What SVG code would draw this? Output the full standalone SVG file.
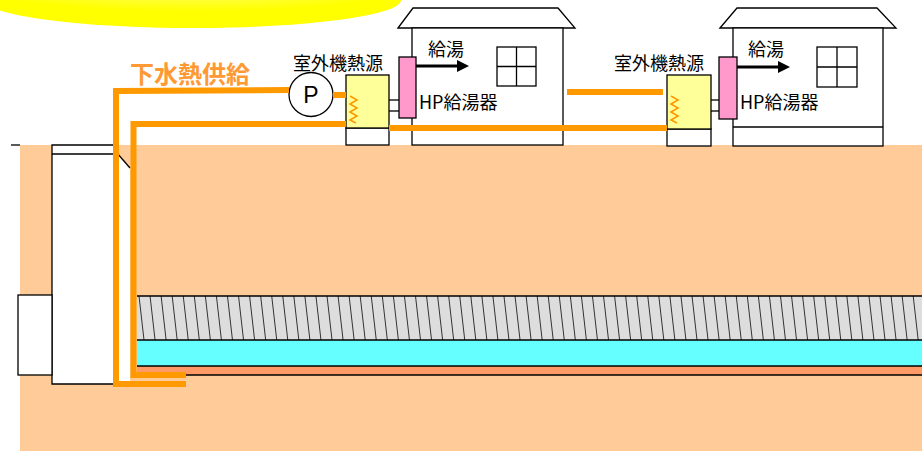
<svg xmlns="http://www.w3.org/2000/svg" width="922" height="451" viewBox="0 0 922 451">
  <defs>
    <radialGradient id="sunGrad" cx="0.5" cy="0.1" r="0.6">
      <stop offset="0" stop-color="#FFFFAA"/>
      <stop offset="0.55" stop-color="#FFFF44"/>
      <stop offset="1" stop-color="#FFFF00"/>
    </radialGradient>
    <marker id="arrowHead" viewBox="0 0 10 10" refX="0" refY="5" markerWidth="4" markerHeight="4" markerUnits="strokeWidth" orient="auto">
      <path d="M0,0 L10,5 L0,10 z" fill="#000"/>
    </marker>
    <style>
      .ln { stroke: #000; stroke-width: 1.3; fill: none; }
      .wh { fill: #fff; stroke: #000; stroke-width: 1.3; }
      .unit { fill: #FFFF99; stroke: #000; stroke-width: 1.3; }
      .hp { fill: #FF99CC; stroke: #000; stroke-width: 1.3; }
      .pipe { fill: none; stroke: #FF9900; stroke-width: 6; stroke-linejoin: miter; stroke-linecap: butt; }
      .coil { fill: none; stroke: #FF9900; stroke-width: 1.6; }
      .hatch { fill: none; stroke: #333; stroke-width: 1; }
      .lbl { font-family: "Noto Sans CJK JP", "Noto Sans", sans-serif; font-size: 18px; fill: #000; }
      .title { font-family: "Noto Sans CJK JP", "Noto Sans", sans-serif; font-size: 24px; font-weight: bold; fill: #FF9933; }
    </style>
  </defs>

  <!-- sun -->
  <ellipse cx="193" cy="0" rx="208" ry="28" fill="url(#sunGrad)"/>

  <!-- ground -->
  <rect x="20" y="145" width="902" height="306" fill="#FFCC99"/>
  <line class="ln" x1="11" y1="145" x2="20" y2="145"/>

  <!-- manhole shaft and side chamber -->
  <g id="shaft">
    <polygon points="52,145 117,145 117,154 130,168 130,384 52,384" fill="#fff"/>
    <polyline class="ln" points="113,145 52,145 52,384 116,384"/>
    <line class="ln" x1="52" y1="154" x2="113" y2="154"/>
    <line class="ln" x1="117" y1="153" x2="130" y2="168"/>
    <rect class="wh" x="18" y="295" width="34" height="80"/>
  </g>

  <!-- sewer pipe: sediment (hatched), flow, invert -->
  <g id="sewer">
    <rect x="137" y="296" width="785" height="44" fill="#DDDDDD"/>
    <path class="hatch" d="M139,296l5,44M150.06,296l5,44M161.12,296l5,44M172.18,296l5,44M183.24,296l5,44M194.3,296l5,44M205.36,296l5,44M216.42,296l5,44M227.48,296l5,44M238.54,296l5,44M249.6,296l5,44M260.66,296l5,44M271.72,296l5,44M282.78,296l5,44M293.84,296l5,44M304.9,296l5,44M315.96,296l5,44M327.02,296l5,44M338.08,296l5,44M349.14,296l5,44M360.2,296l5,44M371.26,296l5,44M382.32,296l5,44M393.38,296l5,44M404.44,296l5,44M415.5,296l5,44M426.56,296l5,44M437.62,296l5,44M448.68,296l5,44M459.74,296l5,44M470.8,296l5,44M481.86,296l5,44M492.92,296l5,44M503.98,296l5,44M515.04,296l5,44M526.1,296l5,44M537.16,296l5,44M548.22,296l5,44M559.28,296l5,44M570.34,296l5,44M581.4,296l5,44M592.46,296l5,44M603.52,296l5,44M614.58,296l5,44M625.64,296l5,44M636.7,296l5,44M647.76,296l5,44M658.82,296l5,44M669.88,296l5,44M680.94,296l5,44M692,296l5,44M703.06,296l5,44M714.12,296l5,44M725.18,296l5,44M736.24,296l5,44M747.3,296l5,44M758.36,296l5,44M769.42,296l5,44M780.48,296l5,44M791.54,296l5,44M802.6,296l5,44M813.66,296l5,44M824.72,296l5,44M835.78,296l5,44M846.84,296l5,44M857.9,296l5,44M868.96,296l5,44M880.02,296l5,44M891.08,296l5,44M902.14,296l5,44M913.2,296l5,44"/>
    <rect x="137" y="340" width="785" height="26" fill="#66FFFF"/>
    <rect x="137" y="366" width="785" height="9" fill="#FF9966"/>
    <line class="ln" x1="137" y1="296" x2="922" y2="296"/>
    <line class="ln" x1="137" y1="340" x2="922" y2="340"/>
    <line class="ln" x1="137" y1="366" x2="922" y2="366"/>
    <line class="ln" x1="137" y1="375" x2="922" y2="375"/>
  </g>

  <!-- house 1 -->
  <g id="house1">
    <polygon class="wh" points="398,28 413,8 558,8 575,28"/>
    <rect class="wh" x="412" y="28" width="151" height="117"/>
    <line class="ln" x1="412" y1="127" x2="563" y2="127"/>
    <rect class="wh" x="497" y="47" width="39" height="39"/>
    <line class="ln" x1="516.5" y1="47" x2="516.5" y2="86"/>
    <line class="ln" x1="497" y1="66.5" x2="536" y2="66.5"/>
  </g>

  <!-- house 2 -->
  <g id="house2">
    <polygon class="wh" points="720,28 737,8 877,8 896,28"/>
    <rect class="wh" x="733" y="28" width="150" height="118"/>
    <line class="ln" x1="733" y1="127" x2="883" y2="127"/>
    <rect class="wh" x="817" y="47" width="40" height="40"/>
    <line class="ln" x1="837" y1="47" x2="837" y2="87"/>
    <line class="ln" x1="817" y1="67" x2="857" y2="67"/>
  </g>

  <!-- outdoor unit 1 -->
  <g id="unit1">
    <rect class="wh" x="346" y="128" width="43" height="17"/>
    <rect class="unit" x="346" y="75" width="43" height="53"/>
    <polyline class="coil" points="350,96 357,100 350,104 357,108 350,112 357,116 350,120 356,123"/>
    <text class="lbl" x="293" y="70">室外機熱源</text>
  </g>

  <!-- outdoor unit 2 -->
  <g id="unit2">
    <rect class="wh" x="667" y="129" width="44" height="17"/>
    <rect class="unit" x="667" y="75" width="44" height="54"/>
    <polyline class="coil" points="671,96 678,100 671,104 678,108 671,112 678,116 671,120 677,123"/>
    <text class="lbl" x="614" y="70">室外機熱源</text>
  </g>

  <!-- heat pump water heater 1 -->
  <g id="hp1">
    <line class="ln" x1="389" y1="100" x2="399" y2="100"/>
    <line class="ln" x1="389" y1="111" x2="399" y2="111"/>
    <rect class="hp" x="399" y="57" width="17" height="61"/>
    <text class="lbl" x="419" y="108.5">HP給湯器</text>
  </g>

  <!-- heat pump water heater 2 -->
  <g id="hp2">
    <line class="ln" x1="711" y1="100" x2="719" y2="100"/>
    <line class="ln" x1="711" y1="111" x2="719" y2="111"/>
    <rect class="hp" x="719" y="57" width="18" height="62"/>
    <text class="lbl" x="740" y="108.5">HP給湯器</text>
  </g>

  <!-- pump -->
  <g id="pump">
    <circle cx="311" cy="94.5" r="22" fill="#fff" stroke="#000" stroke-width="1.3"/>
    <text x="311" y="103" text-anchor="middle" font-family="Liberation Sans, sans-serif" font-size="23" fill="#000">P</text>
  </g>

  <!-- hot water supply arrows -->
  <g id="supply1">
    <line x1="416" y1="66" x2="457" y2="66" stroke="#000" stroke-width="3" marker-end="url(#arrowHead)"/>
    <text class="lbl" x="428" y="56">給湯</text>
  </g>
  <g id="supply2">
    <line x1="737" y1="67" x2="778" y2="67" stroke="#000" stroke-width="3" marker-end="url(#arrowHead)"/>
    <text class="lbl" x="748" y="56">給湯</text>
  </g>

  <!-- heat supply title -->
  <text id="title" class="title" x="130" y="83">下水熱供給</text>

  <!-- heat-source water piping -->
  <g id="connectors">
    <polyline class="pipe" points="289,90 116,91 116,384 186,384"/>
    <polyline class="pipe" points="346,124 133.5,124 133.5,375 186,375"/>
    <line class="pipe" x1="333" y1="95" x2="346" y2="95"/>
    <line class="pipe" x1="389" y1="128" x2="667" y2="128"/>
    <line class="pipe" x1="567" y1="92" x2="663" y2="92"/>
  </g>
</svg>
